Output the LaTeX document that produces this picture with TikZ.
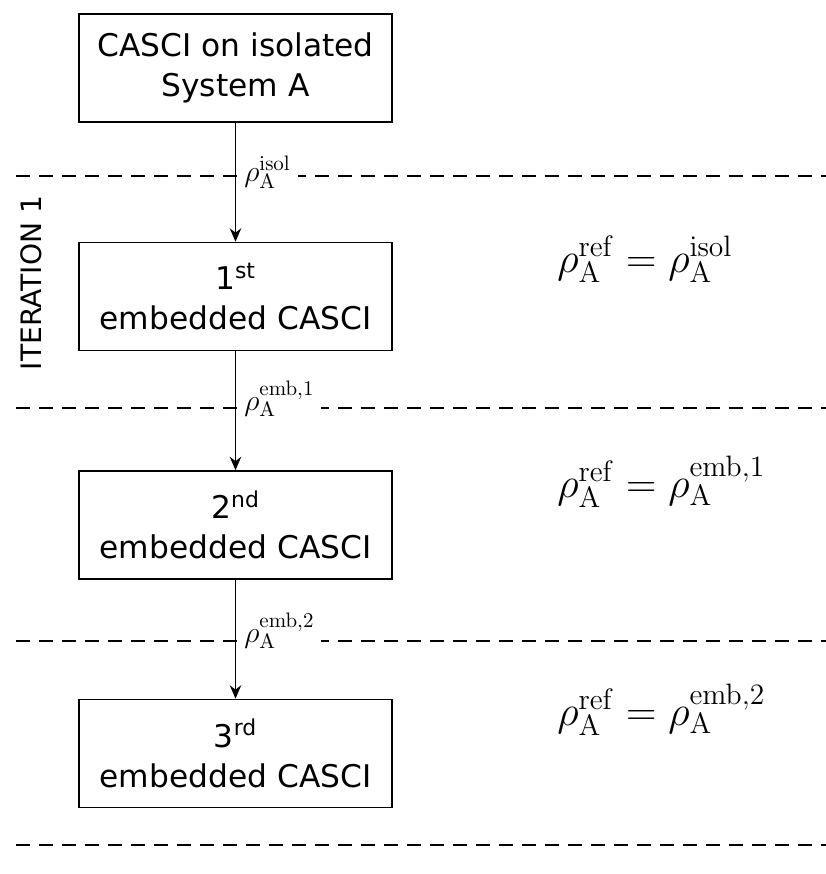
\RequirePackage{fix-cm}
\documentclass[tikz,border=0pt]{standalone}
\usepackage[no-math]{fontspec}
\setmainfont{DejaVu Sans}
\usepackage{tikz}
\usetikzlibrary{positioning,arrows.meta}

\begin{document}
\begin{tikzpicture}[node distance=2.38cm,
    casci/.style={draw, line width=0.85pt, minimum width=6.26cm, minimum height=2.16cm, align=center, font=\fontsize{17.8}{22.7}\selectfont},
    rholab/.style={fill=white, anchor=base west, inner xsep=4pt, font=\fontsize{17}{20}\selectfont},
    sepline/.style={dash pattern=on 0.28cm off 0.18cm, line width=0.85pt},
    flow/.style={-{Stealth[length=2.7mm,width=2.3mm]}, line width=0.8pt},
    eqn/.style={anchor=base west, inner sep=0pt, font=\fontsize{24}{28}\selectfont}]
    \useasboundingbox (0,0) rectangle (16.52,-17.48);
    \node[casci] (isol) at (4.71,-1.36) {CASCI on isolated\\System A};
    \node[casci, below=of isol] (emb1) {1\textsuperscript{st}\\embedded CASCI};
    \node[casci, below=of emb1] (emb2) {2\textsuperscript{nd}\\embedded CASCI};
    \node[casci, below=of emb2] (emb3) {3\textsuperscript{rd}\\embedded CASCI};
    % separators between iterations
    \foreach \y in {-3.52,-8.16,-12.82,-16.9}
        \draw[sepline] (0.32,\y) -- (16.6,\y);
    \node[rholab] (rho0) at ([xshift=0.03cm]isol.south |- 0,-3.62) {$\rho_{\mathrm{A}}^{\mathrm{isol}}$};
    \node[rholab] (rho1) at ([xshift=0.03cm]emb1.south |- 0,-8.2) {$\rho_{\mathrm{A}}^{\mathrm{emb},1}$};
    \node[rholab] (rho2) at ([xshift=0.03cm]emb2.south |- 0,-12.84) {$\rho_{\mathrm{A}}^{\mathrm{emb},2}$};
    \draw[flow] (isol) -- (emb1);
    \draw[flow] (emb1) -- (emb2);
    \draw[flow] (emb2) -- (emb3);
    \node[eqn] (eq1) at (11.14,-5.44) {$\rho_{\mathrm{A}}^{\mathrm{ref}} = \rho_{\mathrm{A}}^{\mathrm{isol}}$};
    \node[eqn] (eq2) at (11.14,-9.94) {$\rho_{\mathrm{A}}^{\mathrm{ref}} = \rho_{\mathrm{A}}^{\mathrm{emb},1}$};
    \node[eqn] (eq3) at (11.14,-14.5) {$\rho_{\mathrm{A}}^{\mathrm{ref}} = \rho_{\mathrm{A}}^{\mathrm{emb},2}$};
    \node[rotate=90, font=\fontsize{16}{19}\selectfont] (iter) at (0.62,-5.66) {ITERATION 1};
\end{tikzpicture}
\end{document}
